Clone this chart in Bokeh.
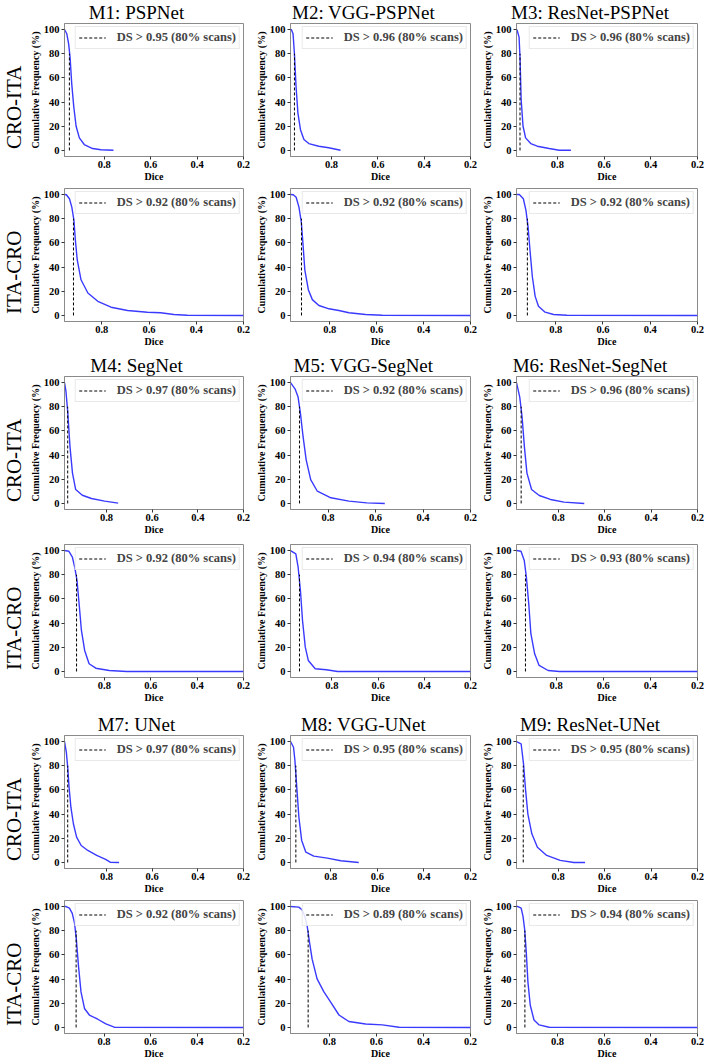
import math
from bokeh.plotting import figure
from bokeh.models import Range1d, FixedTicker, Legend, LegendItem, Title
from bokeh.layouts import column, row
from bokeh.embed import file_html
from bokeh.resources import INLINE

# ---------------- data ----------------
model_names = ["M1: PSPNet", "M2: VGG-PSPNet", "M3: ResNet-PSPNet",
               "M4: SegNet", "M5: VGG-SegNet", "M6: ResNet-SegNet",
               "M7: UNet", "M8: VGG-UNet", "M9: ResNet-UNet"]
row_labels = ["CRO-ITA", "ITA-CRO"]
ds_cro = [0.95, 0.96, 0.96, 0.97, 0.92, 0.96, 0.97, 0.95, 0.95]
ds_ita = [0.92, 0.92, 0.92, 0.92, 0.94, 0.93, 0.92, 0.89, 0.94]
scan_pct = 80
x_ticks = [0.2, 0.4, 0.6, 0.8]
y_ticks = [0, 20, 40, 60, 80, 100]
x_end = 0.2

m1_cro_dice = [0.971, 0.961, 0.953, 0.947, 0.940, 0.931, 0.921, 0.907, 0.886, 0.850, 0.814, 0.760]
m1_cro_freq = [100, 96.5, 88, 77, 55.5, 36, 20, 10.4, 4.9, 1.6, 0.6, 0.2]
m2_cro_dice = [0.977, 0.973, 0.966, 0.960, 0.953, 0.945, 0.934, 0.919, 0.898, 0.855, 0.812, 0.761]
m2_cro_freq = [100, 99.8, 96.5, 80, 52.7, 30.9, 17.2, 9, 5.7, 3.5, 2.2, 0.2]
m3_cro_dice = [0.975, 0.972, 0.964, 0.960, 0.955, 0.947, 0.936, 0.914, 0.886, 0.835, 0.792, 0.742]
m3_cro_freq = [100, 99.2, 93.7, 77.3, 41.8, 20, 10.4, 5.7, 3.5, 1.6, 0.2, 0.2]
m4_cro_dice = [0.984, 0.978, 0.970, 0.960, 0.949, 0.935, 0.906, 0.866, 0.808, 0.749]
m4_cro_freq = [100, 93.4, 76, 47, 25.1, 11.5, 6.8, 4.1, 1.9, 0.3]
m5_cro_dice = [0.958, 0.939, 0.926, 0.916, 0.905, 0.892, 0.873, 0.845, 0.788, 0.712, 0.637, 0.561]
m5_cro_freq = [100, 94.8, 88, 74.3, 55.2, 36.1, 19.7, 10.1, 4.7, 1.9, 0.5, 0]
m6_cro_dice = [0.980, 0.966, 0.956, 0.946, 0.935, 0.915, 0.882, 0.834, 0.775, 0.688]
m6_cro_freq = [100, 88, 71.6, 47, 25.1, 11.5, 6.6, 3.3, 1.1, 0]
m7_cro_dice = [0.984, 0.976, 0.970, 0.964, 0.956, 0.945, 0.931, 0.911, 0.882, 0.843, 0.804, 0.784, 0.745]
m7_cro_freq = [100, 91.2, 78.8, 62.2, 45.7, 32, 20.9, 14, 9.9, 5.8, 2.5, 0.2, 0]
m8_cro_dice = [0.973, 0.960, 0.954, 0.946, 0.937, 0.925, 0.907, 0.873, 0.815, 0.757, 0.680]
m8_cro_freq = [100, 95.3, 84.3, 62.2, 37.4, 18.2, 8.5, 5.2, 3.6, 1.4, 0]
m9_cro_dice = [0.979, 0.959, 0.949, 0.940, 0.930, 0.913, 0.889, 0.849, 0.791, 0.732, 0.684]
m9_cro_freq = [100, 98, 82, 60, 40, 23.7, 12.6, 5.8, 1.7, 0, 0]

m1_ita_dice = [0.958, 0.950, 0.937, 0.927, 0.918, 0.912, 0.904, 0.888, 0.859, 0.817, 0.761, 0.691, 0.607, 0.551, 0.495, 0.438, 0.2]
m1_ita_freq = [100, 99.8, 96.5, 89.6, 78.7, 62.3, 45.9, 29.5, 18.6, 11.7, 6.8, 4.1, 2.7, 2.2, 0.8, 0.2, 0]
m2_ita_dice = [0.967, 0.955, 0.943, 0.931, 0.921, 0.914, 0.906, 0.891, 0.874, 0.846, 0.803, 0.761, 0.718, 0.647, 0.576, 0.2]
m2_ita_freq = [100, 99.8, 97.8, 89.6, 77.3, 59.6, 37.7, 21.3, 13.1, 8.2, 5.5, 4.1, 2.2, 0.8, 0.2, 0]
m3_ita_dice = [0.966, 0.954, 0.937, 0.926, 0.917, 0.909, 0.899, 0.887, 0.873, 0.845, 0.809, 0.753, 0.2]
m3_ita_freq = [100, 100, 96.5, 86.9, 73.2, 54.1, 32.2, 15.8, 7.6, 2.7, 0.8, 0.2, 0]
m4_ita_dice = [0.972, 0.953, 0.938, 0.928, 0.918, 0.909, 0.899, 0.885, 0.866, 0.837, 0.779, 0.703, 0.2]
m4_ita_freq = [100, 99.4, 94.5, 86.2, 75.2, 56, 33.9, 17.4, 6.4, 2.7, 0.8, 0, 0]
m5_ita_dice = [0.979, 0.956, 0.946, 0.936, 0.927, 0.915, 0.902, 0.872, 0.824, 0.775, 0.2]
m5_ita_freq = [100, 97.3, 86.2, 66.9, 42.1, 20.1, 9.1, 2.2, 1.4, 0, 0]
m6_ita_dice = [0.968, 0.949, 0.935, 0.926, 0.916, 0.907, 0.891, 0.872, 0.834, 0.786, 0.2]
m6_ita_freq = [100, 99.4, 91.7, 77.9, 56, 31.2, 14.6, 5, 0.8, 0, 0]
m7_ita_dice = [0.970, 0.963, 0.949, 0.937, 0.927, 0.919, 0.910, 0.899, 0.884, 0.863, 0.827, 0.792, 0.756, 0.2]
m7_ita_freq = [100, 100, 98.7, 94.6, 86.5, 72.8, 51.1, 29.4, 15.7, 10.3, 6.8, 2.9, 0.2, 0]
m8_ita_dice = [0.965, 0.930, 0.916, 0.904, 0.894, 0.884, 0.873, 0.852, 0.823, 0.795, 0.759, 0.717, 0.646, 0.575, 0.504, 0.2]
m8_ita_freq = [100, 99.5, 97.3, 91.8, 83.7, 70.1, 56.5, 40.2, 29.4, 21.2, 10.3, 4.9, 2.9, 2.1, 0.2, 0]
m9_ita_dice = [0.976, 0.970, 0.956, 0.948, 0.941, 0.934, 0.927, 0.917, 0.901, 0.879, 0.836, 0.2]
m9_ita_freq = [100, 100, 98.7, 91.8, 81, 62, 37.5, 18.4, 6.2, 2.1, 0.2, 0]

cro_curves = [(m1_cro_dice, m1_cro_freq), (m2_cro_dice, m2_cro_freq), (m3_cro_dice, m3_cro_freq),
              (m4_cro_dice, m4_cro_freq), (m5_cro_dice, m5_cro_freq), (m6_cro_dice, m6_cro_freq),
              (m7_cro_dice, m7_cro_freq), (m8_cro_dice, m8_cro_freq), (m9_cro_dice, m9_cro_freq)]
ita_curves = [(m1_ita_dice, m1_ita_freq), (m2_ita_dice, m2_ita_freq), (m3_ita_dice, m3_ita_freq),
              (m4_ita_dice, m4_ita_freq), (m5_ita_dice, m5_ita_freq), (m6_ita_dice, m6_ita_freq),
              (m7_ita_dice, m7_ita_freq), (m8_ita_dice, m8_ita_freq), (m9_ita_dice, m9_ita_freq)]
curves = [cro_curves, ita_curves]
thresholds = [ds_cro, ds_ita]

# ---------------- layout / style ----------------
FONT = "Liberation Serif"
FW = [180, 182, 183]
BL = [63, 36, 36]
BR = [9, 8, 7]
FH = 134
BT = [23, 4, 27, 7, 30, 4]
BB = 27
CURVE = "#3a3aff"
FRAME = "#8a8a8a"
TITLE_PX = 19
ROW_PX = 21

# Times/Liberation Serif advance widths (1/1000 em), used only to place titles
SERIF_W = {"M": 889, "1": 500, "2": 500, "3": 500, "4": 500, "5": 500, "6": 500, "7": 500,
           "8": 500, "9": 500, ":": 278, " ": 250, "P": 556, "S": 556, "N": 722, "e": 444,
           "t": 278, "V": 722, "G": 722, "-": 333, "R": 667, "s": 389, "g": 500, "U": 722,
           "C": 667, "O": 722, "I": 333, "T": 611, "A": 722}


def text_w(s, px):
    return sum(SERIF_W.get(ch, 500) for ch in s) / 1000.0 * px


def make_panel(r, c):
    m = (r // 2) * 3 + c
    dom = r % 2
    dice, freq = curves[dom][m]
    ds = thresholds[dom][m]
    xmax = dice[0]
    p = figure(width=BL[c] + FW[c] + BR[c], height=BT[r] + FH + BB,
               x_range=Range1d(xmax, x_end), y_range=Range1d(-5, 105),
               output_backend="svg", toolbar_location=None,
               min_border_left=BL[c], min_border_right=BR[c],
               min_border_top=BT[r], min_border_bottom=BB)
    if dom == 0:
        name = model_names[m]
        p.title.text = name
        p.title.align = "left"
        p.title.vertical_align = "middle"
        p.title.offset = FW[c] / 2 - 18 - text_w(name, TITLE_PX) / 2
        p.title.standoff = 0
        p.title.text_font = FONT
        p.title.text_font_size = f"{TITLE_PX}px"
        p.title.text_font_style = "normal"
        p.title.text_color = "black"
    else:
        p.title.visible = False
    p.xgrid.visible = False
    p.ygrid.visible = False
    p.background_fill_color = "white"
    p.border_fill_color = "white"
    p.outline_line_color = FRAME
    p.outline_line_width = 1

    p.line(dice, freq, line_color=CURVE, line_width=1.4)
    dash_r = p.line([ds, ds], [0, scan_pct], line_color="black", line_width=1, line_dash="3 2")

    legend = Legend(items=[LegendItem(label=f"DS > {ds:.2f} ({scan_pct}% scans)", renderers=[dash_r])],
                    location="top_right", margin=3, padding=3, spacing=0,
                    glyph_width=27, glyph_height=13, label_height=13, label_standoff=11,
                    label_text_font=FONT, label_text_font_size="12.5px", label_text_font_style="bold",
                    border_line_color="#d4d4d4", border_line_width=1,
                    background_fill_color="white", background_fill_alpha=0.85)
    p.add_layout(legend)

    p.xaxis.ticker = FixedTicker(ticks=x_ticks)
    p.yaxis.ticker = FixedTicker(ticks=y_ticks)
    p.xaxis.axis_label = "Dice"
    p.yaxis.axis_label = "Cumulative Frequency (%)"
    for ax in (p.xaxis[0], p.yaxis[0]):
        ax.axis_line_color = FRAME
        ax.major_tick_line_color = "#333333"
        ax.major_tick_out = 3
        ax.major_tick_in = 0
        ax.minor_tick_out = 0
        ax.minor_tick_in = 0
        ax.major_label_text_font = FONT
        ax.major_label_text_font_size = "10.5px"
        ax.major_label_text_font_style = "bold"
        ax.major_label_text_color = "black"
        ax.axis_label_text_font = FONT
        ax.axis_label_text_font_size = "10px"
        ax.axis_label_text_font_style = "bold"
        ax.axis_label_text_color = "black"
    p.xaxis.major_label_standoff = 1
    p.xaxis.axis_label_standoff = 0
    p.yaxis.major_label_standoff = 2
    p.yaxis.axis_label_standoff = 0

    if c == 0:
        lab = row_labels[dom]
        p.add_layout(Title(text=lab, align="left", vertical_align="middle",
                           offset=FH / 2 - 17 - text_w(lab, ROW_PX) / 2, standoff=0,
                           text_font=FONT, text_font_size=f"{ROW_PX}px",
                           text_font_style="normal", text_color="black"), "left")
    return p


rows = []
for r in range(6):
    rows.append(row(*[make_panel(r, c) for c in range(3)], spacing=0))
layout = column(*rows, spacing=0)

open("out.html", "w").write(file_html(layout, INLINE))
